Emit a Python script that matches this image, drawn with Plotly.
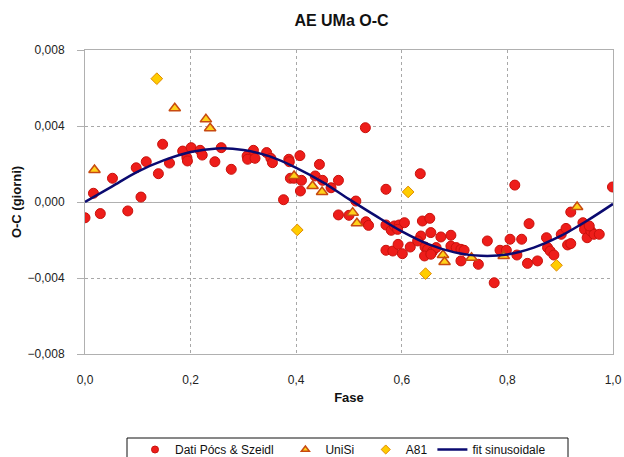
import plotly.graph_objects as go

# Dati Pócs & Szeidl
red_phase = [0.000, 0.016, 0.029, 0.052, 0.081, 0.097, 0.106, 0.116, 0.139, 0.147,
             0.160, 0.185, 0.193, 0.194, 0.201, 0.218, 0.222, 0.246, 0.258, 0.277,
             0.307, 0.308, 0.319, 0.322, 0.344, 0.352, 0.355, 0.376, 0.386, 0.387,
             0.389, 0.396, 0.407, 0.408, 0.410, 0.436, 0.444, 0.450, 0.466, 0.480,
             0.480, 0.500, 0.513, 0.531, 0.532, 0.537, 0.570, 0.570, 0.580, 0.586,
             0.595, 0.605, 0.592, 0.570, 0.583, 0.593, 0.601, 0.616, 0.635, 0.639,
             0.653, 0.636, 0.630, 0.655, 0.644, 0.649, 0.658, 0.665, 0.643, 0.655,
             0.674, 0.693, 0.693, 0.703, 0.712, 0.718, 0.712, 0.745, 0.762, 0.775,
             0.786, 0.798, 0.805, 0.814, 0.818, 0.827, 0.838, 0.841, 0.857, 0.874,
             0.876, 0.881, 0.888, 0.902, 0.911, 0.914, 0.920, 0.920, 0.943, 0.946,
             0.951, 0.958, 0.964, 0.974, 0.955, 0.999]
red_oc = [-0.00083, 0.00046, -0.00061, 0.00125, -0.00047, 0.00180, 0.00026, 0.00212, 0.00149, 0.00304,
          0.00205, 0.00268, 0.00233, 0.00216, 0.00286, 0.00272, 0.00247, 0.00212, 0.00286, 0.00172,
          0.00242, 0.00225, 0.00272, 0.00230, 0.00260, 0.00230, 0.00207, 0.00012, 0.00225, 0.00212,
          0.00125, 0.00125, 0.00244, 0.00058, 0.00114, 0.00137, 0.00198, 0.00114, 0.00075, 0.00114,
          -0.00068, -0.00070, 0.00005, 0.00391, -0.00104, -0.00123, 0.00067, -0.00121, -0.00149, -0.00126,
          -0.00121, -0.00109, -0.00144, -0.00254, -0.00258, -0.00223, -0.00272, -0.00237, 0.00149, -0.00100,
          -0.00086, -0.00179, -0.00205, -0.00161, -0.00237, -0.00249, -0.00261, -0.00240, -0.00284, -0.00275,
          -0.00184, -0.00175, -0.00232, -0.00240, -0.00249, -0.00254, -0.00310, -0.00328, -0.00205, -0.00425,
          -0.00254, -0.00254, -0.00196, 0.00089, -0.00279, -0.00196, -0.00323, -0.00114, -0.00310, -0.00188,
          -0.00240, -0.00258, -0.00279, -0.00170, -0.00139, -0.00226, -0.00219, -0.00053, -0.00109, -0.00144,
          -0.00188, -0.00153, -0.00170, -0.00170, -0.00126, 0.00079]

# UniSi
unisi_phase = [0.018, 0.170, 0.229, 0.237, 0.396, 0.431, 0.449, 0.507, 0.515,
               0.678, 0.681, 0.732, 0.793, 0.932]
unisi_oc = [0.00168, 0.00493, 0.00435, 0.00388, 0.00137, 0.00084, 0.00053, -0.00056, -0.00112,
            -0.00279, -0.00316, -0.00293, -0.00284, -0.00026]

# A81
a81_phase = [0.136, 0.402, 0.612, 0.645, 0.893]
a81_oc = [0.00649, -0.00147, 0.00053, -0.00377, -0.00333]

# fit sinusoidale
fit_phase = [0.00, 0.05, 0.10, 0.15, 0.20, 0.25, 0.30, 0.35, 0.40, 0.45, 0.50,
             0.55, 0.60, 0.65, 0.70, 0.75, 0.80, 0.85, 0.90, 0.95, 1.00]
fit_oc = [0.00000, 0.00080, 0.00160, 0.00220, 0.00263, 0.00282, 0.00274, 0.00240, 0.00180, 0.00105, 0.00015,
          -0.00072, -0.00155, -0.00222, -0.00265, -0.00283, -0.00276, -0.00240, -0.00180, -0.00100, -0.00010]

names = ["Dati Pócs & Szeidl", "UniSi", "A81", "fit sinusoidale"]

red_style = dict(symbol="circle", color="#ee1d1a", line=dict(color="#c8120c", width=1))
tri_style = dict(symbol="triangle-up", color="#ffd21a", line=dict(color="#c84a10", width=1.5))
dia_style = dict(symbol="diamond", color="#ffcc00", line=dict(color="#e08a00", width=1))
fit_line = dict(color="#0a0a70", width=2.5)

fig = go.Figure()
fig.add_trace(go.Scatter(x=red_phase, y=red_oc, mode="markers", showlegend=False,
                         marker=dict(size=10, **red_style)))
fig.add_trace(go.Scatter(x=unisi_phase, y=unisi_oc, mode="markers", showlegend=False,
                         marker=dict(size=10, **tri_style)))
fig.add_trace(go.Scatter(x=a81_phase, y=a81_oc, mode="markers", showlegend=False,
                         marker=dict(size=9, **dia_style)))
fig.add_trace(go.Scatter(x=fit_phase, y=fit_oc, mode="lines", showlegend=False,
                         line=dict(shape="spline", **fit_line)))

# legend entries (smaller symbols, as in the reference)
pad = "\u00a0\u00a0"
fig.add_trace(go.Scatter(x=[None], y=[None], mode="markers", name=names[0] + pad,
                         marker=dict(size=7, **red_style)))
fig.add_trace(go.Scatter(x=[None], y=[None], mode="markers", name=names[1] + pad,
                         marker=dict(size=7, **tri_style)))
fig.add_trace(go.Scatter(x=[None], y=[None], mode="markers", name=names[2],
                         marker=dict(size=7, **dia_style)))
fig.add_trace(go.Scatter(x=[None], y=[None], mode="lines", name=names[3],
                         line=fit_line))

L, T, PW, PH = 85, 50, 528, 304

# legend frame
fig.add_shape(type="rect", xref="paper", yref="paper",
              x0=(127 - L) / PW, x1=(568 - L) / PW,
              y0=(T + PH - 438) / PH, y1=(T + PH - 475) / PH,
              line=dict(color="#111111", width=1), fillcolor="white", layer="above")

fig.update_layout(
    width=624, height=457,
    margin=dict(l=L, r=624 - L - PW, t=T, b=457 - T - PH, autoexpand=False),
    paper_bgcolor="white", plot_bgcolor="white",
    separators=", ",
    font=dict(family="Liberation Sans, Arial, sans-serif", size=12, color="#222222"),
    title=dict(text="<b>AE UMa O-C</b>", x=341.5 / 624, xanchor="center",
               y=1 - 20.5 / 457, yanchor="middle",
               font=dict(size=16, color="#111111")),
    showlegend=True,
    legend=dict(orientation="h", x=(135 - L) / PW, xanchor="left",
                y=(T + PH - 435) / PH, yanchor="top",
                borderwidth=0, bgcolor="rgba(0,0,0,0)",
                font=dict(size=12, color="#111111"), itemwidth=30,
                traceorder="normal"),
)
fig.update_xaxes(range=[0, 1], dtick=0.2, tick0=0, tickformat=".1f", automargin=False,
                 showgrid=True, gridcolor="#a8a8a8", griddash="dot", gridwidth=1,
                 showline=True, linecolor="#b0b0b0", linewidth=1, mirror=True,
                 zeroline=False, ticks="", ticklabelstandoff=15,
                 tickfont=dict(size=12, color="#222222"),
                 title=dict(text="<b>Fase</b>", standoff=6, font=dict(size=13, color="#111111")))
fig.update_yaxes(range=[-0.008, 0.008], dtick=0.004, tick0=0, tickformat=".3f", automargin=False,
                 showgrid=True, gridcolor="#a8a8a8", griddash="dot", gridwidth=1,
                 showline=True, linecolor="#b0b0b0", linewidth=1, mirror=True,
                 zeroline=True, zerolinecolor="#b0b0b0", zerolinewidth=1,
                 ticks="outside", ticklen=7, tickcolor="#b0b0b0", ticklabelstandoff=10,
                 tickfont=dict(size=12, color="#222222"),
                 title=dict(text="<b>O-C (giorni)</b>", standoff=3, font=dict(size=13, color="#111111")))

fig.write_html("out.html", config={"displayModeBar": False},
               post_script="document.body.style.margin='0';document.body.style.overflow='hidden';")
